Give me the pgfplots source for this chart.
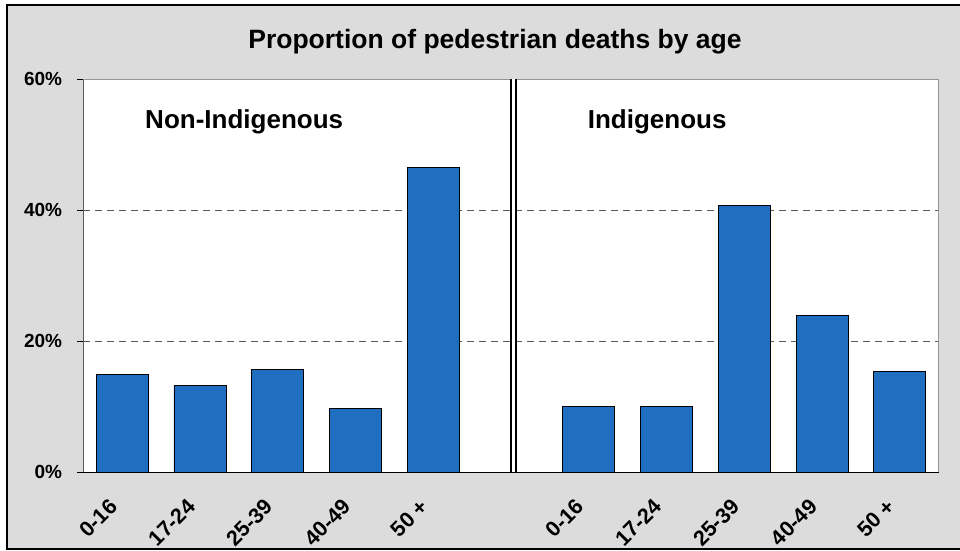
\documentclass[border=0pt]{standalone}
\usepackage{pgfplots}
\pgfplotsset{compat=1.18}
\usepackage{fontspec}
\setmainfont{Liberation Sans}
\definecolor{bggray}{RGB}{220,220,220}
\definecolor{barblue}{RGB}{31,110,192}
\definecolor{gridgray}{RGB}{90,90,90}
\definecolor{framegray}{RGB}{150,150,150}
\begin{document}
\begin{tikzpicture}
\useasboundingbox (0pt,0pt) rectangle (960pt,550pt);
\fill[white] (0pt,0pt) rectangle (960pt,550pt);
\fill[bggray] (7pt,1pt) rectangle (965pt,545pt);
\draw[black,line width=1.5pt] (7pt,1pt) rectangle (965pt,545pt);
\node[anchor=base,font=\fontsize{26.5}{30}\selectfont\bfseries] at (495pt,501.7pt) {Proportion of pedestrian deaths by age};
\begin{axis}[
  at={(83.3pt,77.7pt)}, anchor=south west,
  scale only axis, width=855.4pt, height=393pt,
  xmin=-0.5, xmax=10.5, ymin=0, ymax=60,
  axis background/.style={fill=white},
  ybar, bar width=52pt,
  axis lines=left,
  axis line style={-, line width=1.3pt, gridgray},
  x axis line style={black},
  tick align=outside,
  major tick length=6pt,
  minor tick length=6pt,
  tick style={line width=1pt, black},
  xtick={0,1,2,3,4,6,7,8,9,10},
  xticklabels={0-16,17-24,25-39,40-49,50 +,0-16,17-24,25-39,40-49,50 +},
  xtick style={draw=none},
  minor xtick={-0.5,0.5,1.5,2.5,3.5,4.5,5.5,6.5,7.5,8.5,9.5,10.5},
  minor x tick style={line width=1pt, black},
  xticklabel style={font=\fontsize{21.5}{24}\selectfont\bfseries, inner sep=0pt, xshift=-14pt, yshift=-19pt, rotate=45, anchor=north east},
  ytick={0,20,40,60},
  yticklabels={0\%,20\%,40\%,60\%},
  yticklabel style={font=\fontsize{19}{21}\selectfont\bfseries, inner sep=0pt, xshift=-15pt, anchor=east},
  ymajorgrids,
  grid style={dashed, gridgray, line width=0.9pt, dash pattern=on 7pt off 5pt},
  clip=false,
]
\draw[framegray,line width=1.3pt] (rel axis cs:0,1) -- (rel axis cs:1,1) -- (rel axis cs:1,0);
\addplot[ybar, fill=barblue, draw=black, line width=0.8pt] coordinates {
  (0,15.0) (1,13.3) (2,15.7) (3,9.8) (4,46.5)
  (6,10.0) (7,10.0) (8,40.8) (9,24.0) (10,15.4)
};
\draw[black, line width=2pt, double=white, double distance=3pt] (axis cs:5.03,0) -- (axis cs:5.03,60);
\end{axis}
\node[anchor=base west,font=\fontsize{26}{30}\selectfont\bfseries] at (141.7pt,421.7pt) {Non-Indigenous};
\node[anchor=base west,font=\fontsize{26}{30}\selectfont\bfseries] at (584.3pt,421.7pt) {Indigenous};
\end{tikzpicture}
\end{document}
